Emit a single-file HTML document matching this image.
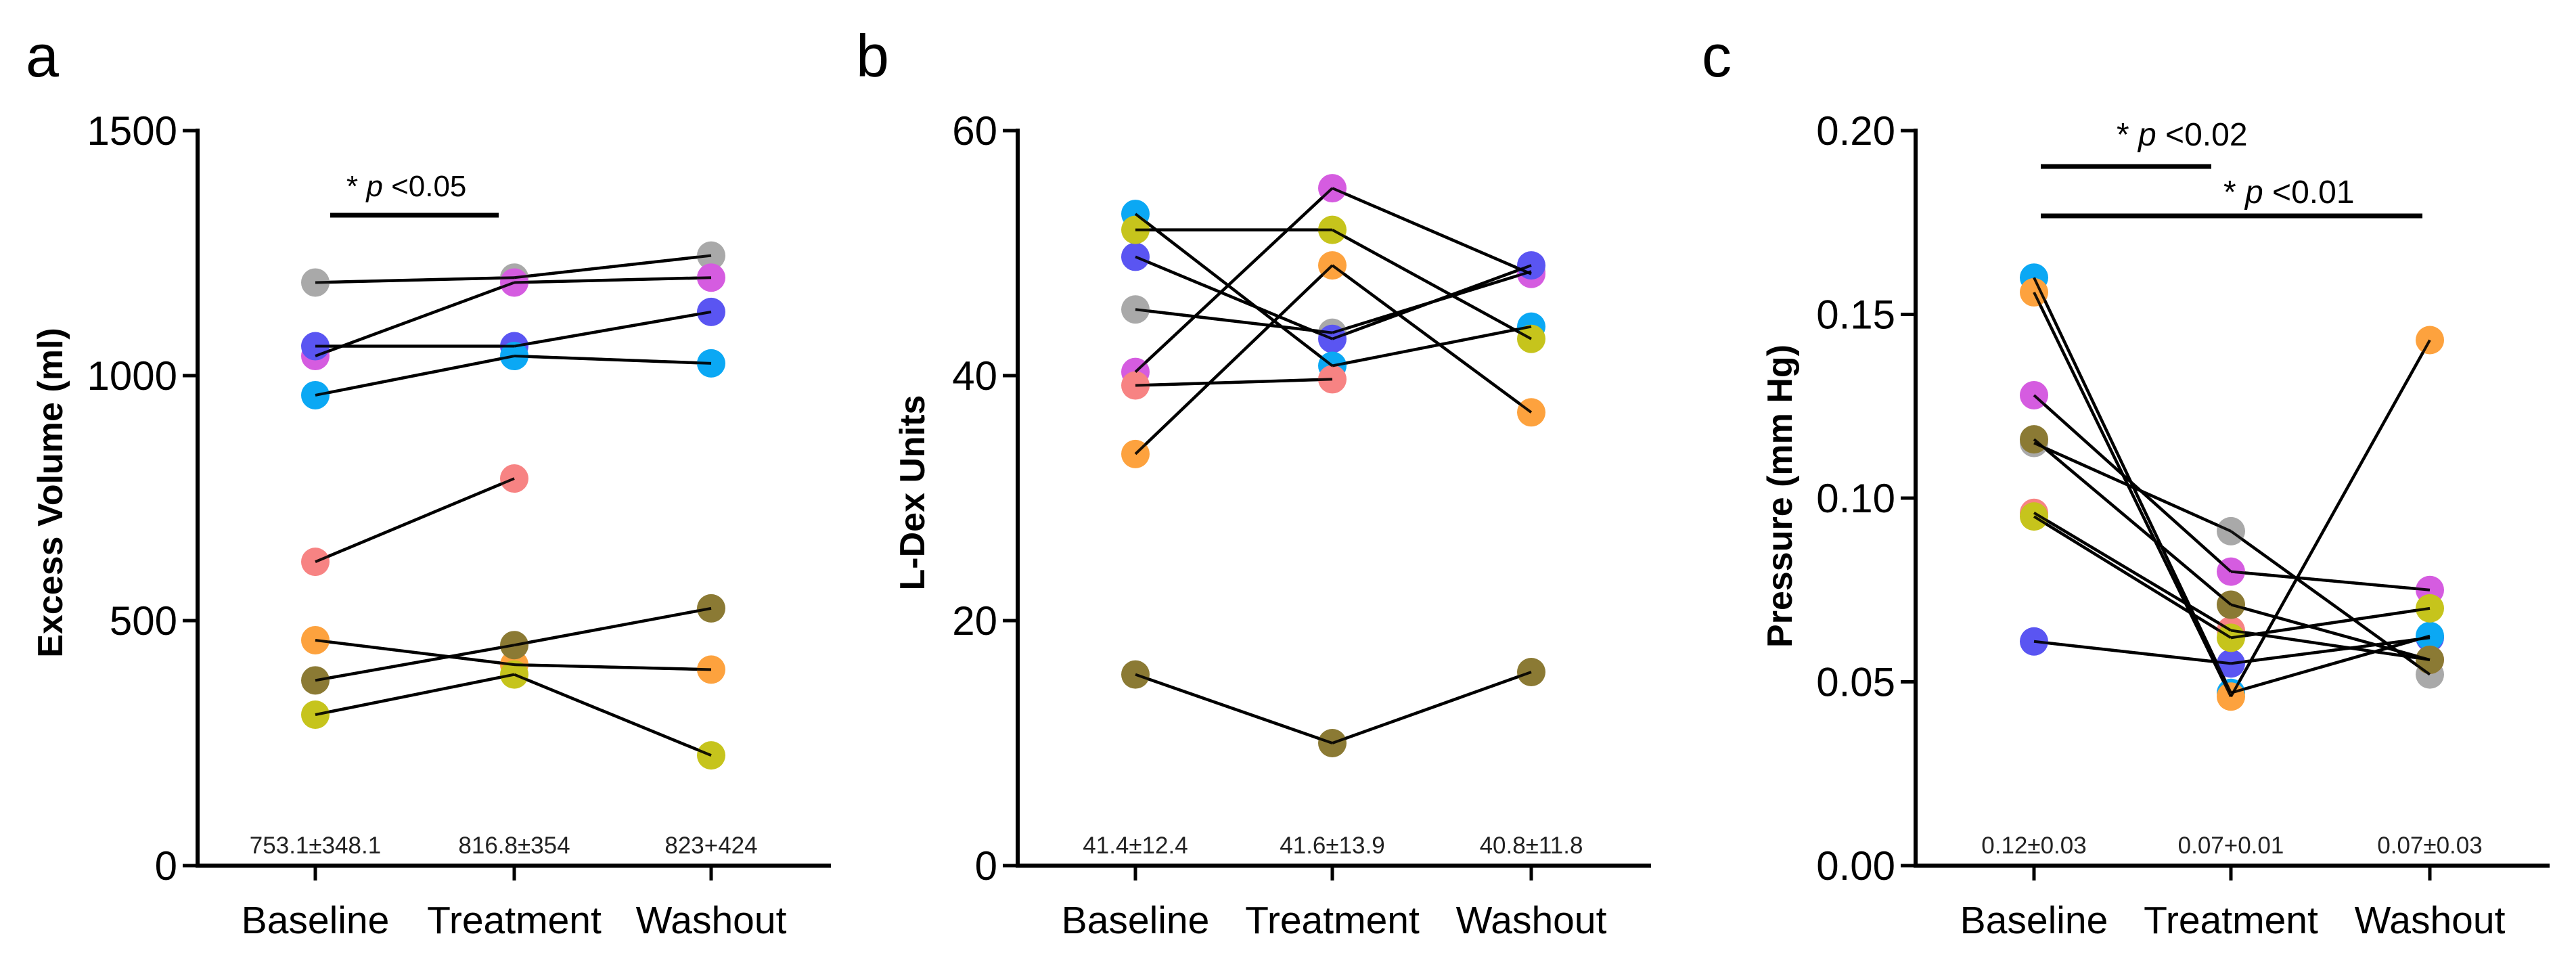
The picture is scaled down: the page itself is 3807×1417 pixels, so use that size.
<!DOCTYPE html>
<html><head><meta charset="utf-8"><style>
html,body{margin:0;padding:0;background:#fff;}
svg{display:block;font-family:"Liberation Sans",Arial,sans-serif;}
</style></head><body>
<svg id="fig" width="3807" height="1417" viewBox="0 0 3807 1417" xmlns="http://www.w3.org/2000/svg"></svg>
<script>
const categories = ["Baseline","Treatment","Washout"];
const colors = ["#a9a9a9","#d55ce0","#5a55f2","#0ba8f4","#f78383","#fda23e","#8b7a34","#c6c41c"];
const colorNames = ["gray","magenta","blue","cyan","pink","orange","olive","yellow"];
// Panel a: Excess Volume (ml)
const volGray = [1190,1200,1245];
const volMagenta = [1040,1190,1200];
const volBlue = [1060,1060,1130];
const volCyan = [960,1040,1025];
const volPink = [620,790,null];
const volOrange = [460,410,400];
const volOlive = [378,450,525];
const volYellow = [308,390,225];
const volTicks = [0,500,1000,1500];
const volStats = ["753.1\u00B1348.1","816.8\u00B1354","823+424"];
// Panel b: L-Dex units
const ldexGray = [45.4,43.5,48.5];
const ldexMagenta = [40.3,55.3,48.3];
const ldexBlue = [49.7,43.0,49.0];
const ldexCyan = [53.2,40.8,44.0];
const ldexPink = [39.2,39.7,null];
const ldexOrange = [33.6,49.0,37.0];
const ldexOlive = [15.6,10.0,15.8];
const ldexYellow = [51.9,51.9,43.0];
const ldexTicks = [0,20,40,60];
const ldexStats = ["41.4\u00B112.4","41.6\u00B113.9","40.8\u00B111.8"];
// Panel c: Pressure (mm Hg)
const presGray = [0.115,0.091,0.052];
const presMagenta = [0.128,0.080,0.075];
const presBlue = [0.061,0.055,0.062];
const presCyan = [0.160,0.047,0.0625];
const presPink = [0.096,0.064,0.056];
const presOrange = [0.156,0.046,0.143];
const presOlive = [0.116,0.071,0.056];
const presYellow = [0.095,0.062,0.070];
const presTicks = [0,0.05,0.10,0.15,0.20];
const presTickLabels = ["0.00","0.05","0.10","0.15","0.20"];
const presStats = ["0.12\u00B10.03","0.07+0.01","0.07\u00B10.03"];

const NS="http://www.w3.org/2000/svg";
const svg=document.getElementById('fig');
function mk(tag,attrs,parent,text){const e=document.createElementNS(NS,tag);for(const k in attrs)e.setAttribute(k,attrs[k]);if(text!==undefined)e.textContent=text;(parent||svg).appendChild(e);return e;}

const Y0=1279, Y1=193;
function panel(cfg){
  const g=mk('g',{});
  
  
  const ys=v=>Y0-(v/cfg.max)*(Y0-Y1);
  const xs=i=>cfg.cats[i];
  const L=mk('text',{x:cfg.letterX,y:113,'font-size':88,fill:'#000'},g,cfg.letter);
  
  
  const ya=mk('line',{x1:cfg.axisX,y1:Y1-3,x2:cfg.axisX,y2:Y0+3,stroke:'#000','stroke-width':6},g);
  
  
  const xa=mk('line',{x1:cfg.axisX-3,y1:Y0,x2:cfg.axisEnd,y2:Y0,stroke:'#000','stroke-width':6},g);
  
  
  cfg.ticks.forEach((t,i)=>{
    const y=ys(t);
    mk('line',{x1:cfg.axisX-22,y1:y,x2:cfg.axisX,y2:y,stroke:'#000','stroke-width':5},g);
    const tl=mk('text',{x:cfg.axisX-30,y:y+21,'font-size':60,'text-anchor':'end',fill:'#000'},g,cfg.tickLabels?cfg.tickLabels[i]:String(t));
    
    
  });
  categories.forEach((c,i)=>{
    mk('line',{x1:xs(i),y1:Y0,x2:xs(i),y2:Y0+22,stroke:'#000','stroke-width':5},g);
    const cl=mk('text',{x:xs(i),y:1379,'font-size':57,'text-anchor':'middle',fill:'#000'},g,c);
    
    
    const st=mk('text',{x:xs(i),y:1261,'font-size':35,'text-anchor':'middle',fill:'#222'},g,cfg.stats[i]);
    
    
  });
  const yt=mk('text',{x:0,y:0,'font-size':52,'font-weight':'bold','text-anchor':'middle',fill:'#000',transform:`translate(${cfg.titleX},${cfg.titleY}) rotate(-90)`},g,cfg.title);
  
  
  cfg.series.forEach((s,si)=>{
    for(let i=0;i<2;i++){
      if(s[i]==null||s[i+1]==null)continue;
      const ln=mk('line',{x1:xs(i),y1:ys(s[i]),x2:xs(i+1),y2:ys(s[i+1]),stroke:'#000','stroke-width':4.5},g);
      
      
    }
  });
  cfg.series.forEach((s,si)=>{
    s.forEach((v,i)=>{
      if(v==null)return;
      const d=mk('circle',{cx:xs(i),cy:ys(v),r:21,fill:colors[si]},g);
      
      
    });
  });
  cfg.series.forEach((s,si)=>{
    for(let i=0;i<2;i++){
      if(s[i]==null||s[i+1]==null)continue;
      mk('line',{x1:xs(i),y1:ys(s[i]),x2:xs(i+1),y2:ys(s[i+1]),stroke:'#000','stroke-width':4,'stroke-opacity':0.9},g);
    }
  });
  (cfg.sig||[]).forEach(sg=>{
    const b=mk('line',{x1:sg.x1,y1:sg.y,x2:sg.x2,y2:sg.y,stroke:'#000','stroke-width':7},g);
    
    
    const t=mk('text',{x:sg.tx,y:sg.ty,'font-size':sg.fs,fill:'#000'},g);
    
    
    mk('tspan',{},t,'* ');
    mk('tspan',{'font-style':'italic'},t,'p');
    mk('tspan',{},t,' <'+sg.p);
  });
}
panel({id:'a',letter:'a',letterX:38,axisX:292,axisEnd:1228,cats:[466,760,1051],max:1500,ticks:volTicks,stats:volStats,
  title:'Excess Volume (ml)',titleX:92,titleY:728,
  series:[volGray,volMagenta,volBlue,volCyan,volPink,volOrange,volOlive,volYellow],
  sig:[{x1:488,x2:737,y:318,tx:512,ty:290,fs:44,p:'0.05'}]});
panel({id:'b',letter:'b',letterX:1265,axisX:1504,axisEnd:2440,cats:[1678,1969,2263],max:60,ticks:ldexTicks,stats:ldexStats,
  title:'L-Dex Units',titleX:1366,titleY:728,
  series:[ldexGray,ldexMagenta,ldexBlue,ldexCyan,ldexPink,ldexOrange,ldexOlive,ldexYellow]});
panel({id:'c',letter:'c',letterX:2515,axisX:2831,axisEnd:3768,cats:[3006,3297,3591],max:0.2,ticks:presTicks,tickLabels:presTickLabels,stats:presStats,
  title:'Pressure  (mm Hg)',titleX:2648,titleY:733,
  series:[presGray,presMagenta,presBlue,presCyan,presPink,presOrange,presOlive,presYellow],
  sig:[{x1:3016,x2:3268,y:246,tx:3128,ty:215,fs:48,p:'0.02'},{x1:3016,x2:3580,y:319,tx:3286,ty:300,fs:48,p:'0.01'}]});
</script>
</body></html>
